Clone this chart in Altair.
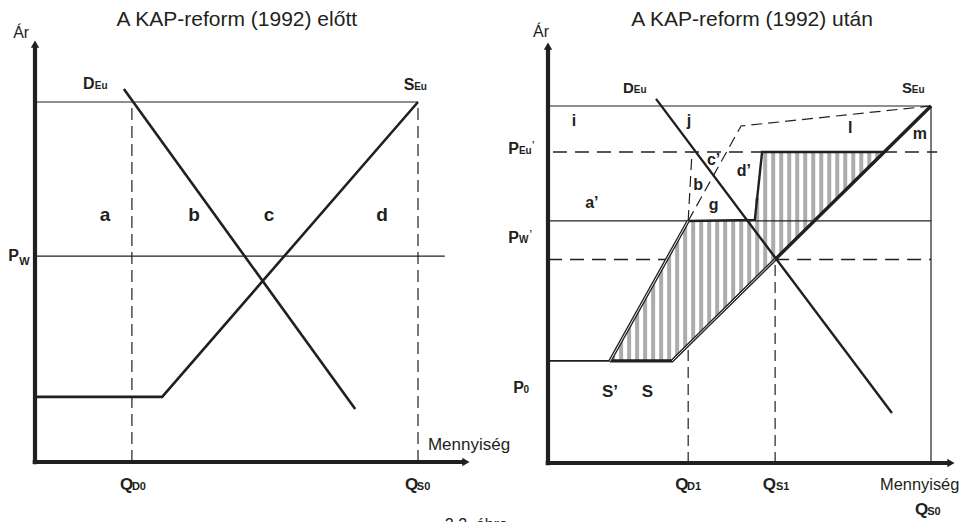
import altair as alt
import numpy as np
import pandas as pd

# ---------------- layout (chart px) ----------------
W, H = 954, 514
FONT = "Liberation Sans, Arial, sans-serif"
INK = "#231f20"
HATCH = "#acacac"
# panel frames: origin of the axes in chart px and px per unit
L_FRAME = dict(x0=27, y0=454, kx=3.83, ky=3.6)
R_FRAME = dict(x0=540, y0=455, kx=3.83, ky=3.57)

# ---------------- left panel data (price / quantity units) ----------------
L_PEU = 100.0
L_PW = 57.2
L_QD0 = 25.3
L_QS0 = 100.0
L_PW_END = 107.0
L_D_Q = [23.2, 83.6]
L_D_P = [103.6, 14.7]
L_S_Q = [0.0, 33.2, 100.0]
L_S_P = [18.1, 18.1, 100.0]
L_AXIS_Y_TOP = 115.5
L_AXIS_X_END = 111.8
L_ARROW_Y = 116.1
L_ARROW_X = 112.5

# ---------------- right panel data ----------------
R_PEU = 100.0
R_PEU2 = 87.1
R_PW2 = 67.8
R_P1 = 57.0
R_QD1 = 36.6
R_QS1 = 59.3
R_QS0 = 100.0
R_PEU2_Q = [1.3, 101.6]
R_D_Q = [28.2, 89.8]
R_D_P = [102.0, 14.0]
R_S_FLAT_Q = [0.0, 16.2]
R_S_FLAT_P = [28.6, 28.6]
R_S_Q = [16.2, 32.4, 100.0]
R_S_P = [28.6, 28.6, 100.0]
R_S_DOUBLE_Q = [32.4, 59.3]
R_S_DOUBLE_P = [28.6, 57.0]
R_S2_Q = [16.2, 36.6]
R_S2_P = [28.6, 67.8]
R_S2_UP_Q = [36.6, 50.4, 100.0]
R_S2_UP_P = [67.8, 94.4, 100.0]
R_S2_V_Q = [36.6, 37.6]
R_S2_V_P = [67.8, 87.1]
R_OUT_Q = [36.6, 54.0, 55.9, 87.8]
R_OUT_P = [67.8, 68.1, 87.1, 87.1]
R_QD1_TOP = 33.0
R_P1_LEFT_END = 31.0
HATCH_TOP_Q = [16.2, 36.6, 54.0, 55.9, 87.8]
HATCH_TOP_P = [28.6, 67.8, 68.1, 87.1, 87.1]
HATCH_BOT_Q = [16.2, 32.4, 87.8]
HATCH_BOT_P = [28.6, 28.6, 87.1]
HATCH_START, HATCH_END, HATCH_STEP = 17.0, 87.6, 2.09
R_AXIS_Y_TOP = 116.0
R_AXIS_X_END = 104.5
R_ARROW_Y = 116.8
R_ARROW_X = 105.2

# ---------------- labels: (text, q, p, font size) ----------------
L_TITLE = [("A KAP-reform (1992) előtt", 52.7, 121.1, 21)]
L_PLAIN = [("Ár", -5.7, 117.8, 16), ("Mennyiség", 102.6, 3.3, 17),
           ("2.2. ábra", 107.0, -18.9, 16)]
L_BOLD = [("D", 12.5, 103.6, 16), ("Eu", 15.6, 103.6, 10),
          ("S", 96.3, 103.3, 16), ("Eu", 99.0, 103.3, 10),
          ("P", -7.0, 55.8, 16), ("W", -4.1, 54.7, 11),
          ("Q", 22.2, -7.8, 17), ("D0", 25.3, -7.8, 11),
          ("Q", 96.6, -7.8, 17), ("S0", 99.7, -7.8, 11)]
L_AREAS = [("a", 18.3, 66.9, 19), ("b", 41.5, 66.9, 19),
           ("c", 61.1, 66.9, 19), ("d", 90.6, 66.9, 19)]

R_TITLE = [("A KAP-reform (1992) után", 53.3, 122.4, 21)]
R_PLAIN = [("Ár", -3.9, 119.3, 16), ("Mennyiség", 86.7, -7.6, 16.4)]
R_BOLD = [("D", 19.6, 103.6, 15), ("Eu", 22.4, 103.6, 10),
          ("S", 92.4, 103.6, 15), ("Eu", 95.0, 103.6, 10),
          ("c’", 41.5, 83.5, 16), ("b", 37.9, 76.5, 16),
          ("d’", 49.3, 80.4, 16), ("g", 42.0, 70.9, 16), ("a’", 9.7, 71.4, 16),
          ("P", -10.4, 86.6, 16), ("Eu", -7.6, 86.6, 10), ("’", -4.2, 88.5, 9),
          ("P", -10.4, 61.6, 16), ("W", -7.6, 61.6, 10), ("’", -4.8, 63.5, 9),
          ("P", -9.1, 19.6, 16), ("0", -6.4, 19.6, 10),
          ("S’", 14.1, 18.5, 17), ("S", 24.5, 18.5, 17),
          ("Q", 33.2, -7.6, 17), ("D1", 36.3, -7.6, 11),
          ("Q", 56.1, -7.6, 17), ("S1", 59.5, -7.6, 11),
          ("Q", 95.8, -14.6, 17), ("S0", 99.0, -14.6, 11)]
R_AREAS = [("i", 6.8, 94.4, 16), ("j", 36.8, 94.4, 16),
           ("l", 78.9, 92.4, 16), ("m", 97.1, 90.8, 16)]


# ---------------- helpers ----------------
def scales(frame):
    xd = [(0 - frame["x0"]) / frame["kx"], (W - frame["x0"]) / frame["kx"]]
    yd = [(frame["y0"] - H) / frame["ky"], frame["y0"] / frame["ky"]]
    return (alt.Scale(domain=xd, nice=False, zero=False),
            alt.Scale(domain=yd, nice=False, zero=False))


def lines(segs, frame, width, dash=None, color=INK, cap="butt"):
    rows = []
    for i, (qs, ps) in enumerate(segs):
        for j, (q, p) in enumerate(zip(qs, ps)):
            rows.append(dict(q=q, p=p, seg=i, o=j))
    sx, sy = scales(frame)
    kw = dict(strokeWidth=width, color=color, strokeCap=cap, strokeJoin="miter")
    if dash:
        kw["strokeDash"] = dash
    return alt.Chart(pd.DataFrame(rows)).mark_line(**kw).encode(
        x=alt.X("q:Q", scale=sx, axis=None),
        y=alt.Y("p:Q", scale=sy, axis=None),
        detail="seg:N", order="o:Q")


def texts(rows, frame, weight="bold", align="left"):
    df = pd.DataFrame(rows, columns=["t", "q", "p", "fs"])
    sx, sy = scales(frame)
    return alt.Chart(df).mark_text(
        align=align, baseline="alphabetic", font=FONT, fontWeight=weight, color=INK
    ).encode(
        x=alt.X("q:Q", scale=sx, axis=None),
        y=alt.Y("p:Q", scale=sy, axis=None),
        text="t:N",
        size=alt.Size("fs:Q", scale=None, legend=None))


def arrow(q, p, shape, frame):
    sx, sy = scales(frame)
    df = pd.DataFrame({"q": [q], "p": [p]})
    return alt.Chart(df).mark_point(
        shape=shape, filled=True, size=70, color=INK, opacity=1, strokeWidth=0
    ).encode(x=alt.X("q:Q", scale=sx, axis=None), y=alt.Y("p:Q", scale=sy, axis=None))


# ---------------- left panel ----------------
F = L_FRAME
left = alt.layer(
    lines([([0, L_QS0], [L_PEU, L_PEU]), ([0, L_PW_END], [L_PW, L_PW])], F, 1.2),
    lines([([L_QD0, L_QD0], [0, L_PEU]), ([L_QS0, L_QS0], [0, L_PEU])], F, 1.2, dash=[12, 6]),
    lines([(L_D_Q, L_D_P), (L_S_Q, L_S_P)], F, 2.6),
    lines([([0, 0], [-0.6, L_AXIS_Y_TOP]), ([-0.6, L_AXIS_X_END], [0, 0])], F, 4.2),
    arrow(0, L_ARROW_Y, "triangle-up", F),
    arrow(L_ARROW_X, 0, "triangle-right", F),
    texts(L_TITLE, F, "normal", "center"),
    texts(L_PLAIN, F, "normal", "left"),
    texts(L_BOLD, F, "bold", "left"),
    texts(L_AREAS, F, "bold", "center"),
)

# ---------------- right panel ----------------
F = R_FRAME
hx = np.arange(HATCH_START, HATCH_END, HATCH_STEP)
hatch_df = pd.DataFrame({
    "q": hx,
    "top": np.interp(hx, HATCH_TOP_Q, HATCH_TOP_P),
    "bot": np.interp(hx, HATCH_BOT_Q, HATCH_BOT_P),
})
sx, sy = scales(F)
hatch = alt.Chart(hatch_df).mark_rule(strokeWidth=4, color=HATCH).encode(
    x=alt.X("q:Q", scale=sx, axis=None),
    y=alt.Y("bot:Q", scale=sy, axis=None),
    y2="top:Q")

right = alt.layer(
    hatch,
    lines([([0, R_QS0], [R_PEU, R_PEU]), ([R_QS0, R_QS0], [0, R_PEU]),
           ([0, R_QS0], [R_PW2, R_PW2])], F, 1.2),
    lines([(R_PEU2_Q, [R_PEU2, R_PEU2]),
           ([0, R_P1_LEFT_END], [R_P1, R_P1]), ([R_QS1, R_QS0], [R_P1, R_P1])],
          F, 1.4, dash=[14, 8]),
    lines([([R_QD1, R_QD1], [0, R_QD1_TOP]), ([R_QS1, R_QS1], [0, R_P1]),
           (R_S2_UP_Q, R_S2_UP_P), (R_S2_V_Q, R_S2_V_P)], F, 1.2, dash=[11, 6]),
    lines([(R_S_FLAT_Q, R_S_FLAT_P)], F, 1.8),
    lines([(R_D_Q, R_D_P), (R_OUT_Q, R_OUT_P)], F, 2.4),
    lines([(R_S_Q, R_S_P), (R_S2_Q, R_S2_P)], F, 3.4),
    lines([(R_S_DOUBLE_Q, R_S_DOUBLE_P), (R_S2_Q, R_S2_P)], F, 0.9, color="white"),
    lines([([0, 0], [-0.6, R_AXIS_Y_TOP]), ([-0.6, R_AXIS_X_END], [0, 0])], F, 4.2),
    arrow(0, R_ARROW_Y, "triangle-up", F),
    arrow(R_ARROW_X, 0, "triangle-right", F),
    texts(R_TITLE, F, "normal", "center"),
    texts(R_PLAIN, F, "normal", "left"),
    texts(R_BOLD, F, "bold", "left"),
    texts(R_AREAS, F, "bold", "center"),
)

chart = alt.layer(left, right).resolve_scale(
    x="independent", y="independent"
).properties(
    width=W, height=H, padding=0,
    autosize=alt.AutoSizeParams(type="none"),
    background="white",
).configure_view(stroke=None)

chart.save("out.html", embed_options={"renderer": "svg", "actions": False})
